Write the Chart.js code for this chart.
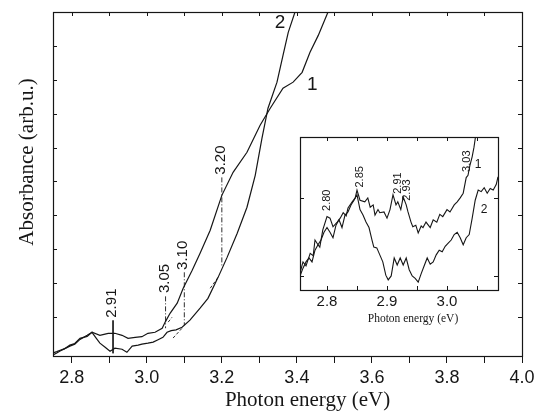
<!DOCTYPE html>
<html>
<head>
<meta charset="utf-8">
<title>Absorbance vs photon energy</title>
<script src="https://cdn.jsdelivr.net/npm/chart.js@4.4.0/dist/chart.umd.min.js"></script>
<style>
    html, body { margin: 0; padding: 0; background: #fff; }
    #wrap       { position: relative; width: 541px; height: 415px; }
    #mainChart  { position: absolute; left: 0; top: 0; }
    #insetChart { position: absolute; left: 290px; top: 130px; }
</style>
</head>
<body>
<div id="wrap">
    <canvas id="mainChart" width="541" height="415"></canvas>
    <canvas id="insetChart" width="225" height="200"></canvas>
</div>
<script>
// ─── Data ─────────────────────────────────────────────────────────────────

// Main panel, curve 1
const mainEnergy1 = [2.750, 2.760, 2.769, 2.780, 2.795, 2.808, 2.822, 2.841, 2.854, 2.875,
                     2.897, 2.915, 2.934, 2.950, 2.969, 2.987, 3.003, 3.022, 3.041, 3.049,
                     3.062, 3.081, 3.097, 3.121, 3.142, 3.169, 3.200, 3.230, 3.267, 3.302,
                     3.329, 3.363, 3.390, 3.414, 3.435, 3.457, 3.483];
const mainAbs1    = [-0.06, -0.02, 0.02, 0.06, 0.17, 0.22, 0.37, 0.43, 0.55, 0.46,
                     0.52, 0.52, 0.46, 0.37, 0.40, 0.42, 0.52, 0.55, 0.67, 0.85,
                     1.11, 1.41, 1.85, 2.38, 2.88, 3.56, 4.59, 5.27, 5.86, 6.66,
                     7.16, 7.75, 7.93, 8.22, 8.81, 9.31, 10.0];

// Main panel, curve 2
const mainEnergy2 = [2.750, 2.760, 2.769, 2.780, 2.795, 2.808, 2.822, 2.841, 2.854, 2.865,
                     2.875, 2.889, 2.902, 2.915, 2.934, 2.947, 2.961, 2.977, 2.987, 3.003,
                     3.017, 3.030, 3.043, 3.054, 3.065, 3.078, 3.094, 3.115, 3.142, 3.163,
                     3.190, 3.214, 3.241, 3.267, 3.289, 3.307, 3.323, 3.347, 3.363, 3.377, 3.395];
const mainAbs2    = [-0.12, -0.06, 0.00, 0.06, 0.14, 0.20, 0.34, 0.46, 0.55, 0.38,
                     0.23, 0.11, -0.01, 0.08, 0.05, -0.04, 0.14, 0.17, 0.20, 0.23,
                     0.26, 0.33, 0.40, 0.55, 0.60, 0.62, 0.70, 0.91, 1.26, 1.55,
                     2.17, 2.76, 3.47, 4.24, 5.18, 6.28, 7.16, 7.93, 8.72, 9.40, 10.0];

// Inset, curve 1
const insetEnergy1 = [2.755, 2.760, 2.765, 2.772, 2.777, 2.780, 2.785, 2.788, 2.793, 2.800,
                      2.805, 2.810, 2.817, 2.822, 2.827, 2.832, 2.835, 2.842, 2.847, 2.850,
                      2.855, 2.863, 2.868, 2.872, 2.877, 2.880, 2.885, 2.888, 2.895, 2.900,
                      2.905, 2.910, 2.915, 2.918, 2.923, 2.927, 2.932, 2.935, 2.940, 2.943,
                      2.948, 2.952, 2.957, 2.960, 2.965, 2.972, 2.977, 2.983, 2.988, 2.993,
                      3.000, 3.005, 3.012, 3.017, 3.022, 3.027, 3.032, 3.035, 3.038, 3.042,
                      3.045, 3.048];
const insetAbs1    = [0.04, 0.18, 0.13, 0.29, 0.26, 0.46, 0.40, 0.37, 0.59, 0.76,
                      0.74, 0.63, 0.69, 0.74, 0.81, 0.77, 0.87, 0.95, 1.00, 1.10,
                      0.97, 0.95, 1.00, 0.88, 0.91, 0.78, 0.85, 0.81, 0.82, 0.74,
                      0.85, 1.04, 0.91, 0.95, 0.85, 1.01, 0.91, 0.82, 0.69, 0.63,
                      0.65, 0.55, 0.64, 0.62, 0.69, 0.62, 0.72, 0.69, 0.79, 0.76,
                      0.85, 0.82, 0.91, 0.95, 1.00, 1.06, 1.26, 1.29, 1.41, 1.53,
                      1.65, 1.81];

// Inset, curve 2
const insetEnergy2 = [2.755, 2.760, 2.765, 2.770, 2.775, 2.780, 2.785, 2.790, 2.795, 2.800,
                      2.805, 2.810, 2.815, 2.820, 2.825, 2.830, 2.835, 2.840, 2.845, 2.850,
                      2.855, 2.860, 2.865, 2.870, 2.875, 2.878, 2.883, 2.888, 2.893, 2.898,
                      2.902, 2.907, 2.912, 2.917, 2.922, 2.927, 2.932, 2.937, 2.942, 2.947,
                      2.952, 2.957, 2.962, 2.967, 2.972, 2.977, 2.982, 2.987, 2.992, 2.997,
                      3.002, 3.007, 3.012, 3.017, 3.022, 3.027, 3.032, 3.037, 3.042, 3.047,
                      3.052, 3.057, 3.062, 3.067, 3.072, 3.077, 3.082, 3.085];
const insetAbs2    = [0.00, 0.10, 0.18, 0.23, 0.18, 0.33, 0.40, 0.46, 0.56, 0.62,
                      0.56, 0.49, 0.65, 0.72, 0.62, 0.78, 0.82, 0.91, 0.97, 1.04,
                      0.85, 0.78, 0.69, 0.62, 0.46, 0.37, 0.36, 0.27, 0.18, 0.01,
                      -0.05, 0.00, 0.23, 0.14, 0.23, 0.14, 0.23, 0.08, 0.00, -0.03,
                      -0.08, 0.03, 0.13, 0.23, 0.15, 0.18, 0.27, 0.33, 0.31, 0.38,
                      0.42, 0.46, 0.53, 0.56, 0.49, 0.40, 0.49, 0.53, 0.74, 0.97,
                      1.10, 1.08, 1.13, 1.06, 1.12, 1.10, 1.17, 1.27];

// Axis ticks
const mainXTicks   = [2.8, 2.9, 3.0, 3.1, 3.2, 3.3, 3.4, 3.5, 3.6, 3.7, 3.8, 3.9, 4.0];
const mainXLabels  = [2.8, 3.0, 3.2, 3.4, 3.6, 3.8, 4.0];
const mainYTicks   = [1, 2, 3, 4, 5, 6, 7, 8, 9];
const insetXTicks  = [2.80, 2.85, 2.90, 2.95, 3.00, 3.05];
const insetXLabels = [2.8, 2.9, 3.0];
const insetYTicks  = [0, 1];

// Marked energies in the main panel (vertical drop lines)
const markEnergy  = [2.91, 3.05, 3.10, 3.20];
const markTop     = [0.90, 1.61, 2.32, 5.12];
const markBottom  = [-0.07, 0.67, 0.76, 2.47];
const markLabelAt = [1.41, 2.14, 2.82, 5.63];

// Short tangent extensions under the edges
const tangentEnergy = [[3.057, 3.067], [3.070, 3.094], [3.169, 3.190]];
const tangentAbs    = [[0.85, 0.99], [0.38, 0.67], [1.85, 2.17]];

// Inset peak labels
const insetMarkText   = ['2.80', '2.85', '2.91', '2.93', '3.03'];
const insetMarkEnergy = [2.800, 2.855, 2.918, 2.933, 3.033];
const insetMarkAt     = [0.97, 1.27, 1.19, 1.10, 1.47];

// Curve numbers
const curveNames      = ['1', '2'];
const mainNameEnergy  = [3.441, 3.355];
const mainNameAt      = [7.84, 9.67];
const insetNameEnergy = [3.052, 3.062];
const insetNameAt     = [1.42, 0.85];

// ─── Style ────────────────────────────────────────────────────────────────

const INK      = '#161616';
const SANS     = '"Liberation Sans", Arial, sans-serif';
const SERIF    = '"Liberation Serif", "Times New Roman", serif';
const DASH_DOT = [5, 2, 1, 2];

// ─── Helpers ──────────────────────────────────────────────────────────────

function toPoints(xs, ys) {
    return xs.map((x, i) => ({ x, y: ys[i] }));
}

function lineSet(points, dash = [], width = 1.2) {
    return {
        data: points,
        borderColor: INK,
        borderWidth: width,
        borderDash: dash,
        pointRadius: 0,
        tension: 0,
        fill: false
    };
}

function matchLabel(v, labels) {
    const hit = labels.find(l => Math.abs(l - v) < 1e-6);
    return hit === undefined ? '' : hit.toFixed(1);
}

function rotatedText(ctx, text, x, y, font) {
    ctx.save();
    ctx.translate(x, y);
    ctx.rotate(-Math.PI / 2);
    ctx.font = font;
    ctx.textAlign = 'center';
    ctx.textBaseline = 'middle';
    ctx.fillText(text, 0, 0);
    ctx.restore();
}

/** Frame + inward tick marks on the given sides */
function drawFrame(chart, xTicks, yTicks, len, sides) {
    const { ctx, chartArea: a, scales: { x, y } } = chart;
    ctx.save();
    ctx.strokeStyle = INK;
    ctx.lineWidth = 1.2;
    ctx.strokeRect(Math.round(a.left) + 0.5, Math.round(a.top) + 0.5,
                   Math.round(a.right - a.left), Math.round(a.bottom - a.top));
    ctx.lineWidth = 1;
    ctx.beginPath();
    xTicks.forEach(v => {
        const px = Math.round(x.getPixelForValue(v)) + 0.5;
        ctx.moveTo(px, a.top);    ctx.lineTo(px, a.top + len);
        if (sides.bottom) { ctx.moveTo(px, a.bottom); ctx.lineTo(px, a.bottom - len); }
    });
    yTicks.forEach(v => {
        const py = Math.round(y.getPixelForValue(v)) + 0.5;
        ctx.moveTo(a.left, py);   ctx.lineTo(a.left + len, py);
        ctx.moveTo(a.right, py);  ctx.lineTo(a.right - len, py);
    });
    ctx.stroke();
    ctx.restore();
}

const whiteBg = {
    id: 'whiteBg',
    beforeDraw(chart, args, opts) {
        const { ctx, chartArea: a } = chart;
        ctx.save();
        ctx.fillStyle = '#fff';
        if (opts.full) ctx.fillRect(0, 0, chart.width, chart.height);
        else ctx.fillRect(a.left, a.top, a.right - a.left, a.bottom - a.top);
        ctx.restore();
    }
};

// ─── Main panel ───────────────────────────────────────────────────────────

const mainDecor = {
    id: 'mainDecor',
    afterDraw(chart) {
        const { ctx, chartArea: a, scales: { x, y } } = chart;
        drawFrame(chart, mainXTicks, mainYTicks, 4, { bottom: false });

        ctx.save();
        ctx.fillStyle = INK;

        // drop-line labels
        markEnergy.forEach((e, i) => {
            rotatedText(ctx, e.toFixed(2), x.getPixelForValue(e) - 1,
                        y.getPixelForValue(markLabelAt[i]), `15px ${SANS}`);
        });

        // curve numbers
        ctx.font = `19px ${SANS}`;
        ctx.textAlign = 'center';
        ctx.textBaseline = 'middle';
        curveNames.forEach((n, i) => {
            ctx.fillText(n, x.getPixelForValue(mainNameEnergy[i]), y.getPixelForValue(mainNameAt[i]));
        });

        // axis titles
        const cx = (a.left + a.right) / 2;
        const cy = (a.top + a.bottom) / 2;
        ctx.font = `21px ${SERIF}`;
        ctx.fillText('Photon energy (eV)', cx + 20, a.bottom + 44);
        rotatedText(ctx, 'Absorbance (arb.u.)', 27, cy - 22, `21px ${SERIF}`);
        ctx.restore();
    }
};

new Chart(document.getElementById('mainChart'), {
    type: 'line',
    data: {
        datasets: [
            lineSet(toPoints(mainEnergy1, mainAbs1)),
            lineSet(toPoints(mainEnergy2, mainAbs2)),
            ...markEnergy.map((e, i) => lineSet(
                [{ x: e, y: markTop[i] }, { x: e, y: markBottom[i] }],
                i === 0 ? [] : DASH_DOT, 0.9)),
            ...tangentEnergy.map((es, i) => lineSet(toPoints(es, tangentAbs[i]), [3, 2], 0.9))
        ]
    },
    options: {
        responsive: false,
        animation: false,
        layout: { padding: { left: 53, top: 12, right: 19, bottom: 0 } },
        plugins: { legend: { display: false }, tooltip: { enabled: false }, whiteBg: { full: true } },
        scales: {
            x: {
                type: 'linear',
                min: 2.75,
                max: 4.0,
                afterBuildTicks: s => { s.ticks = mainXTicks.map(v => ({ value: v })); },
                afterFit: s => { s.height = 59; },
                grid: { drawOnChartArea: false, drawTicks: true, tickLength: 7, color: INK },
                border: { display: false },
                ticks: {
                    autoSkip: false,
                    maxRotation: 0,
                    padding: 4,
                    color: INK,
                    font: { family: SANS, size: 18 },
                    callback: v => matchLabel(v, mainXLabels)
                }
            },
            y: { type: 'linear', display: false, min: -0.15, max: 10 }
        }
    },
    plugins: [whiteBg, mainDecor]
});

// ─── Inset ────────────────────────────────────────────────────────────────

const insetDecor = {
    id: 'insetDecor',
    afterDraw(chart) {
        const { ctx, chartArea: a, scales: { x, y } } = chart;
        drawFrame(chart, insetXTicks, insetYTicks, 4, { bottom: true });

        ctx.save();
        ctx.fillStyle = INK;
        insetMarkText.forEach((t, i) => {
            rotatedText(ctx, t, x.getPixelForValue(insetMarkEnergy[i]),
                        y.getPixelForValue(insetMarkAt[i]), `11px ${SANS}`);
        });

        ctx.font = `12px ${SANS}`;
        ctx.textAlign = 'center';
        ctx.textBaseline = 'middle';
        curveNames.forEach((n, i) => {
            ctx.fillText(n, x.getPixelForValue(insetNameEnergy[i]), y.getPixelForValue(insetNameAt[i]));
        });

        ctx.font = `11.5px ${SERIF}`;
        ctx.fillText('Photon energy (eV)', (a.left + a.right) / 2 + 14, a.bottom + 29);
        ctx.restore();
    }
};

new Chart(document.getElementById('insetChart'), {
    type: 'line',
    data: {
        datasets: [
            lineSet(toPoints(insetEnergy1, insetAbs1), [], 1.1),
            lineSet(toPoints(insetEnergy2, insetAbs2), [], 1.1)
        ]
    },
    options: {
        responsive: false,
        animation: false,
        layout: { padding: { left: 10, top: 7, right: 17, bottom: 0 } },
        plugins: { legend: { display: false }, tooltip: { enabled: false }, whiteBg: { full: false } },
        scales: {
            x: {
                type: 'linear',
                min: 2.755,
                max: 3.085,
                afterBuildTicks: s => { s.ticks = insetXTicks.map(v => ({ value: v })); },
                afterFit: s => { s.height = 40; },
                grid: { drawOnChartArea: false, drawTicks: false },
                border: { display: false },
                ticks: {
                    autoSkip: false,
                    maxRotation: 0,
                    padding: 3,
                    color: INK,
                    font: { family: SANS, size: 15 },
                    callback: v => matchLabel(v, insetXLabels)
                }
            },
            y: { type: 'linear', display: false, min: -0.18, max: 1.78 }
        }
    },
    plugins: [whiteBg, insetDecor]
});
</script>
</body>
</html>
